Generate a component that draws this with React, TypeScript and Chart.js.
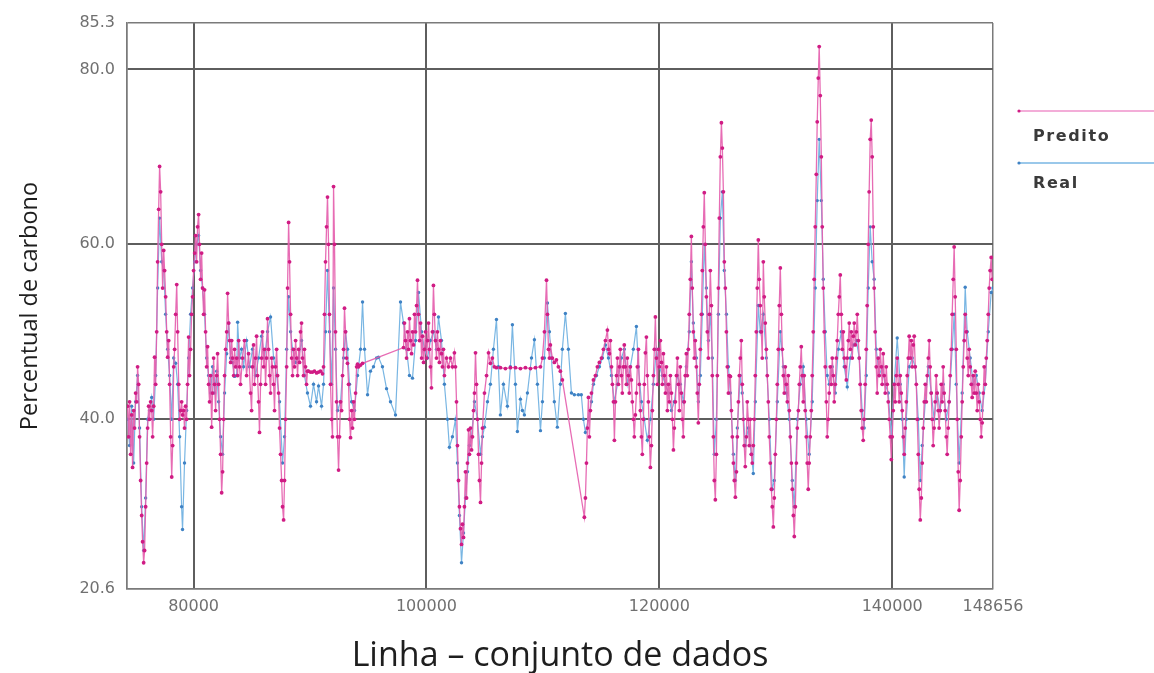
import React, { useEffect, useRef } from "react";
import { Chart, registerables } from "chart.js";

Chart.register(...registerables);

const X_MIN = 74280;
const X_MAX = 148656;
const Y_MIN = 20.6;
const Y_MAX = 85.3;
const xTickValues = [74280, 80000, 100000, 120000, 140000, 148656];
const xTickLabels = ["", "80000", "100000", "120000", "140000", "148656"];
const yTickValues = [20.6, 40, 60, 80, 85.3];
const seriesNames = ["Predito", "Real"];

const predito: [number, number][] = [
  [74330, 41.5], [74420, 38], [74500, 42], [74590, 36], [74680, 40.5], [74760, 34.5], [74850, 41], [74930, 39], [75020, 43], [75110, 42],
  [75190, 46], [75280, 44], [75360, 38], [75450, 33], [75540, 29], [75620, 26], [75710, 23.6], [75790, 25], [75880, 30], [75970, 35],
  [76050, 39], [76140, 41.5], [76220, 40], [76310, 42], [76400, 41], [76480, 38], [76570, 41.5], [76650, 47.1], [76740, 44], [76830, 50],
  [76910, 58], [77000, 64], [77080, 68.9], [77170, 66], [77260, 60], [77340, 55], [77430, 59.3], [77510, 57], [77600, 54], [77690, 50],
  [77770, 47.1], [77860, 49], [77940, 44], [78030, 38], [78120, 33.4], [78200, 37], [78290, 46], [78370, 48], [78460, 52], [78550, 55.4],
  [78630, 50], [78720, 44], [78800, 40], [78880, 41], [78970, 42], [79050, 40.5], [79140, 41], [79220, 39], [79310, 41.5], [79400, 40],
  [79480, 44], [79570, 49.4], [79650, 45], [79740, 48], [79830, 52], [79910, 54], [80000, 57], [80090, 59], [80170, 61], [80260, 58],
  [80340, 62], [80430, 63.4], [80510, 60], [80600, 56], [80690, 59], [80770, 55], [80860, 52], [80940, 54.8], [81030, 50], [81120, 46],
  [81200, 48.3], [81290, 44], [81370, 42], [81460, 45], [81550, 39.1], [81630, 43], [81720, 47], [81800, 44], [81890, 41], [81980, 45],
  [82060, 47.5], [82150, 44], [82230, 40], [82320, 36], [82410, 31.6], [82490, 34], [82580, 40], [82660, 45], [82750, 48], [82840, 50],
  [82920, 54.4], [83010, 51], [83090, 49], [83180, 46.5], [83270, 49], [83350, 47], [83440, 45], [83520, 48], [83610, 46], [83700, 47],
  [83780, 45], [83870, 49], [83950, 46], [84030, 44], [84200, 47], [84370, 49], [84550, 45], [84720, 47.5], [84890, 43], [84980, 41],
  [85060, 46], [85150, 48.5], [85230, 44], [85320, 47], [85410, 49.5], [85490, 45], [85580, 42], [85660, 38.5], [85750, 44], [85840, 47],
  [85920, 50], [86010, 46], [86090, 48], [86180, 44], [86270, 47], [86350, 51.5], [86440, 48], [86520, 45], [86610, 43], [86700, 47],
  [86780, 46], [86870, 44], [86950, 41], [87040, 46], [87130, 48], [87210, 45], [87300, 43], [87380, 39], [87470, 36], [87560, 33],
  [87640, 30], [87730, 28.5], [87810, 33], [87900, 40], [87990, 46], [88070, 55], [88160, 62.5], [88240, 58], [88330, 52], [88420, 47],
  [88500, 45], [88590, 48], [88670, 46], [88760, 49], [88850, 47], [88930, 45], [89020, 48], [89100, 46.5], [89180, 50], [89270, 51],
  [89350, 47], [89440, 45], [89520, 48], [89610, 46], [89700, 44], [89780, 45.5], [89870, 45.5], [90040, 45.4], [90210, 45.4], [90380, 45.5],
  [90560, 45.3], [90730, 45.4], [90900, 45.5], [91070, 45.2], [91160, 46], [91240, 52], [91330, 58], [91420, 62], [91500, 65.4], [91590, 60],
  [91670, 52], [91760, 44], [91850, 40], [91930, 38], [92020, 66.6], [92100, 60], [92190, 50], [92280, 42], [92360, 38], [92450, 34.2],
  [92530, 38], [92620, 42], [92710, 41], [92790, 45], [92880, 48], [92960, 52.7], [93050, 50], [93140, 47], [93220, 46.4], [93310, 44],
  [93390, 40], [93480, 37.9], [93570, 41], [93650, 39], [93740, 42], [93820, 40], [93910, 43], [94000, 46], [94080, 46.3], [94170, 46],
  [94340, 46.2], [94510, 46.4], [98030, 48.2], [98110, 51], [98200, 49], [98290, 47], [98370, 50], [98460, 48], [98540, 51.5], [98630, 49],
  [98720, 47.5], [98800, 50], [98890, 48.5], [98970, 52], [99060, 50], [99150, 53], [99230, 55.9], [99320, 52], [99400, 49], [99490, 51],
  [99580, 47], [99660, 49.5], [99750, 46.5], [99830, 48], [99920, 50], [100010, 47], [100090, 49], [100180, 51], [100260, 48], [100340, 46],
  [100430, 43.6], [100510, 50], [100600, 55.3], [100680, 52], [100770, 49], [100860, 47], [100940, 50], [101030, 48], [101110, 46.5], [101200, 49],
  [101290, 47.5], [101370, 46], [101460, 48], [101540, 45], [101720, 47], [101890, 46], [102060, 47], [102230, 46], [102400, 47.6], [102490, 46],
  [102580, 42], [102660, 37], [102750, 33], [102830, 30], [102920, 27.5], [103010, 25.7], [103090, 28], [103180, 26.5], [103260, 30], [103350, 34],
  [103440, 31], [103520, 35], [103610, 38.8], [103690, 36], [103780, 39], [103870, 36.5], [103950, 38], [104040, 41], [104120, 43], [104210, 47.6],
  [104300, 44], [104380, 40], [104470, 36], [104550, 33], [104640, 30.5], [104730, 35], [104810, 39], [104980, 43], [105160, 45], [105330, 47.6],
  [105490, 46.4], [105660, 47], [105830, 46], [106010, 45.9], [106350, 45.9], [106780, 45.8], [107210, 45.9], [107640, 45.9], [108070, 45.8], [108500, 45.9],
  [108930, 45.8], [109360, 45.9], [109790, 46], [109960, 47], [110130, 50], [110310, 55.9], [110390, 52], [110480, 48], [110560, 47], [110640, 48.5],
  [110810, 47], [110980, 46.5], [111160, 46.8], [111330, 46], [111500, 45.5], [111670, 44.5], [113560, 28.8], [113650, 31], [113740, 35], [113820, 39],
  [113910, 42.5], [113990, 38], [114080, 41], [114170, 43], [114340, 44.5], [114510, 45], [114680, 46], [114850, 46.5], [115030, 47], [115200, 48],
  [115370, 49], [115540, 50.2], [115630, 48], [115710, 47.5], [115800, 49], [115890, 46], [115970, 44], [116060, 42], [116140, 37.6], [116230, 42],
  [116320, 45], [116400, 47], [116490, 44], [116570, 46], [116650, 48], [116740, 45], [116820, 43], [116910, 46], [116990, 48.5], [117080, 46],
  [117170, 44], [117250, 47], [117340, 45], [117420, 43], [117510, 46], [117600, 44.5], [117680, 42], [117770, 40], [117850, 38], [117940, 40.5],
  [118030, 43], [118110, 46], [118200, 48], [118280, 44], [118370, 41], [118460, 38], [118540, 36], [118630, 40], [118710, 44], [118800, 47.6],
  [118890, 49.4], [118970, 45], [119060, 42], [119140, 38], [119230, 34.5], [119320, 37], [119400, 41], [119490, 45], [119570, 48], [119660, 51.7],
  [119750, 47], [119830, 44], [119920, 48], [120000, 46], [120090, 49], [120180, 46.5], [120260, 44], [120350, 47.5], [120430, 45], [120520, 43],
  [120610, 46], [120690, 41], [120780, 44], [120860, 42], [120950, 45], [121040, 43], [121120, 40], [121210, 36.5], [121290, 39], [121380, 42],
  [121470, 45], [121550, 47], [121640, 44], [121720, 41], [121800, 46], [121890, 43], [121970, 40], [122060, 38], [122140, 42], [122230, 45],
  [122320, 47.5], [122400, 45], [122490, 48], [122570, 52], [122660, 56], [122750, 60.9], [122830, 55], [122920, 50], [123000, 47], [123090, 49],
  [123180, 46], [123260, 43], [123350, 39.6], [123430, 44], [123520, 48], [123610, 52], [123690, 57], [123780, 62], [123860, 65.9], [123950, 60],
  [124040, 54], [124120, 50], [124210, 47], [124290, 52], [124380, 57], [124470, 53], [124550, 45], [124640, 38], [124720, 33], [124810, 30.8],
  [124900, 36], [124980, 45], [125070, 55], [125150, 63], [125240, 70], [125330, 73.9], [125410, 71], [125500, 66], [125580, 58], [125670, 55],
  [125760, 50], [125840, 46], [125930, 43], [126010, 45], [126100, 44.9], [126190, 41], [126270, 38], [126360, 35], [126440, 33], [126530, 31.1],
  [126620, 34], [126700, 38], [126790, 42], [126870, 45], [126950, 47], [127040, 49], [127120, 44], [127210, 40], [127290, 37], [127380, 34.6],
  [127470, 38], [127550, 42], [127640, 40], [127720, 37], [127810, 40], [127900, 36], [127980, 35], [128070, 37], [128150, 40], [128240, 45],
  [128330, 50], [128410, 55], [128500, 60.5], [128580, 56], [128670, 53], [128760, 50], [128840, 47], [128930, 58], [129010, 54], [129100, 51],
  [129190, 48], [129270, 45], [129360, 42], [129440, 38], [129530, 35], [129620, 32], [129700, 30], [129790, 27.7], [129870, 31], [129960, 36],
  [130050, 40], [130130, 44], [130220, 48], [130300, 53], [130390, 57.3], [130480, 52], [130560, 48], [130650, 45], [130730, 43], [130820, 46],
  [130910, 44], [130990, 42], [131080, 45], [131160, 41], [131250, 38], [131340, 35], [131420, 32], [131510, 29], [131590, 26.6], [131680, 30],
  [131770, 35], [131850, 39], [131940, 41], [132020, 44], [132100, 46], [132190, 48.3], [132270, 45], [132360, 42], [132440, 45], [132530, 41],
  [132620, 38], [132700, 35], [132790, 32], [132870, 35], [132960, 38], [133050, 41], [133130, 45], [133220, 50], [133300, 56], [133390, 62],
  [133480, 68], [133560, 74], [133650, 79], [133730, 82.6], [133820, 77], [133910, 70], [133990, 62], [134080, 55], [134160, 50], [134250, 46],
  [134340, 42], [134420, 38], [134510, 40], [134590, 43], [134680, 46], [134770, 44], [134850, 47], [134940, 45], [135020, 42], [135110, 44],
  [135200, 47], [135280, 49], [135370, 52], [135450, 54], [135540, 56.5], [135630, 52], [135710, 48], [135800, 50], [135880, 47], [135970, 46],
  [136060, 44.5], [136140, 47], [136230, 49], [136310, 51], [136400, 48], [136490, 50], [136570, 47], [136660, 49.5], [136740, 51], [136830, 48.5],
  [136920, 50], [137000, 52], [137090, 49], [137170, 47], [137250, 44], [137340, 41], [137420, 39], [137510, 37.6], [137590, 40], [137680, 44],
  [137770, 48], [137850, 53], [137940, 60], [138020, 66], [138110, 72], [138200, 74.2], [138280, 70], [138370, 62], [138450, 55], [138540, 50],
  [138630, 46], [138710, 43], [138800, 47], [138880, 45], [138970, 48], [139060, 46], [139140, 44], [139230, 47.5], [139310, 45], [139400, 43],
  [139490, 46], [139570, 44], [139660, 42], [139740, 40], [139830, 38], [139920, 35.4], [140000, 38], [140090, 41], [140170, 44], [140260, 42],
  [140350, 45], [140430, 47], [140520, 44], [140600, 42], [140690, 45], [140780, 43], [140860, 41], [140950, 38], [141030, 36], [141120, 39],
  [141210, 42], [141290, 45], [141380, 47], [141460, 49.5], [141550, 47], [141640, 49], [141720, 46], [141810, 48.5], [141890, 49.5], [141980, 46],
  [142070, 44], [142150, 40], [142240, 36], [142320, 32], [142410, 28.5], [142500, 31], [142580, 35], [142670, 39], [142750, 42], [142840, 44],
  [142930, 42], [143010, 45], [143100, 47], [143180, 49], [143260, 46], [143350, 43], [143430, 40], [143520, 37], [143600, 39], [143690, 42],
  [143780, 45], [143860, 43], [143950, 41], [144030, 39], [144120, 41], [144210, 44], [144290, 42], [144380, 46], [144460, 43], [144550, 41],
  [144640, 38], [144720, 36], [144810, 39], [144890, 42], [144980, 45], [145070, 48], [145150, 52], [145240, 56], [145320, 59.7], [145410, 54],
  [145500, 48], [145580, 40], [145670, 34], [145750, 29.6], [145840, 33], [145930, 38], [146010, 42], [146100, 46], [146180, 49], [146270, 52],
  [146360, 50], [146440, 47], [146530, 45], [146610, 48], [146700, 46], [146790, 44], [146870, 42.5], [146960, 45], [147040, 43], [147130, 45.5],
  [147220, 43], [147300, 41], [147390, 44], [147470, 42], [147560, 40], [147650, 38], [147730, 39.6], [147820, 43], [147900, 46], [147990, 44],
  [148080, 47], [148160, 49], [148250, 52], [148330, 55], [148410, 57], [148500, 58.5], [148580, 56],
];

const real: [number, number][] = [
  [74330, 40], [74500, 37], [74680, 41.5], [74850, 35], [75020, 42], [75190, 45], [75360, 39], [75540, 30], [75710, 25], [75880, 31],
  [76050, 40], [76220, 41], [76400, 42.5], [76570, 40], [76740, 45], [76910, 55], [77080, 63], [77260, 58], [77430, 57], [77600, 52],
  [77770, 48], [77940, 45], [78120, 40], [78290, 47], [78460, 46.4], [78630, 44], [78800, 38], [78970, 30], [79050, 27.4], [79220, 35],
  [79400, 41], [79570, 47], [79740, 52], [79910, 55], [80090, 58], [80260, 60], [80430, 61], [80600, 57], [80770, 55], [80940, 52],
  [81120, 47], [81290, 45], [81460, 43], [81630, 46], [81800, 43], [81980, 45.5], [82150, 42], [82320, 38], [82490, 36], [82660, 43],
  [82840, 47.5], [83010, 51], [83180, 47], [83350, 46.5], [83520, 44.9], [83700, 45], [83780, 51.1], [83950, 47], [84120, 48], [84290, 46],
  [84550, 49], [84800, 46], [85060, 48], [85320, 45], [85580, 47], [85840, 49.5], [86090, 47], [86350, 50], [86610, 51.7], [86870, 47],
  [87130, 45], [87380, 42], [87640, 35], [87810, 38], [87990, 48], [88160, 54], [88330, 50], [88500, 48], [88760, 46.5], [89020, 47],
  [89270, 49], [89520, 45], [89780, 43], [90040, 41.5], [90300, 44], [90560, 42], [90730, 43.8], [90990, 41.5], [91160, 44], [91330, 50],
  [91500, 57], [91670, 50], [91850, 44], [92020, 55], [92190, 48], [92360, 41], [92620, 42], [92880, 47], [93050, 50], [93220, 48],
  [93390, 44], [93570, 42], [93820, 41], [94080, 45], [94340, 48], [94510, 53.4], [94680, 48], [94940, 42.8], [95190, 45.5], [95450, 46],
  [95710, 47], [95880, 47.1], [96220, 46], [96570, 43.5], [96910, 42], [97340, 40.5], [97770, 53.4], [98030, 51], [98290, 48], [98540, 45],
  [98800, 44.7], [99060, 49], [99320, 54.5], [99580, 50], [99830, 48], [100090, 47], [100340, 49], [100600, 50], [100860, 48], [101030, 51.7],
  [101290, 49], [101540, 44], [101800, 40], [101970, 36.8], [102230, 38], [102490, 40], [102660, 35], [102830, 29], [103010, 23.6], [103180, 27],
  [103350, 31], [103520, 34], [103690, 37], [103870, 38], [104120, 42], [104380, 40], [104640, 36], [104810, 38], [104980, 39.1], [105240, 42],
  [105490, 44], [105750, 48], [106010, 51.4], [106180, 46], [106350, 40.5], [106610, 44], [106950, 41.5], [107210, 46], [107380, 50.8], [107640, 44],
  [107810, 38.6], [108070, 42.3], [108240, 41], [108410, 40.5], [108670, 43], [109020, 47], [109270, 49.1], [109530, 44], [109790, 38.7], [109960, 42],
  [110130, 47], [110390, 53.3], [110560, 50], [110730, 47], [110980, 42], [111240, 39.1], [111500, 44], [111670, 48], [111930, 52.1], [112190, 48],
  [112450, 43], [112700, 42.8], [113050, 42.8], [113300, 42.8], [113480, 40], [113650, 38.5], [113910, 40], [114170, 42], [114340, 44], [114600, 45],
  [114850, 46], [115110, 47], [115370, 48.5], [115630, 47], [115890, 45], [116140, 42], [116400, 44], [116740, 47], [116990, 48], [117250, 44],
  [117510, 46], [117770, 48], [118030, 50.6], [118200, 46], [118460, 42], [118710, 40], [118970, 37.6], [119230, 40], [119490, 44], [119750, 48],
  [120000, 46], [120260, 45], [120520, 44], [120780, 43], [121040, 41], [121290, 42], [121550, 45], [121800, 44], [122060, 42], [122320, 46],
  [122570, 50], [122750, 58], [122920, 51], [123180, 47], [123350, 42], [123520, 45], [123690, 52], [123860, 60], [124040, 55], [124210, 49],
  [124380, 52], [124550, 47], [124720, 36], [124900, 40], [125070, 52], [125240, 63], [125410, 66], [125580, 57], [125760, 52], [125930, 46],
  [126100, 43], [126360, 36], [126530, 33], [126700, 39], [126950, 45], [127120, 43], [127380, 37], [127640, 39], [127900, 36], [128070, 33.8],
  [128240, 42], [128500, 53], [128670, 50], [128930, 52], [129190, 47], [129440, 40], [129700, 32], [129870, 33], [130130, 42], [130390, 50],
  [130650, 46], [130910, 43], [131160, 40], [131420, 33], [131590, 30], [131850, 40], [132100, 44], [132360, 46], [132620, 40], [132870, 36],
  [133130, 42], [133390, 55], [133560, 65], [133730, 72], [133910, 65], [134080, 56], [134250, 50], [134420, 45], [134590, 44], [134850, 46],
  [135110, 43], [135370, 48], [135630, 50], [135880, 46], [136140, 43.7], [136400, 47], [136660, 48.5], [136920, 49], [137170, 47], [137420, 41],
  [137590, 39], [137770, 45], [137940, 55], [138110, 62], [138280, 58], [138450, 56], [138630, 48], [138880, 45], [139140, 46], [139400, 44],
  [139660, 43], [139920, 38], [140170, 44], [140430, 49.3], [140690, 44], [140860, 40], [141030, 33.4], [141210, 40], [141460, 46], [141720, 47],
  [141980, 46], [142240, 40], [142410, 33], [142580, 37], [142840, 42], [143100, 46], [143350, 43], [143600, 40], [143860, 43], [144120, 41],
  [144380, 44], [144640, 40], [144890, 42], [145150, 48], [145320, 52], [145500, 44], [145750, 35], [146010, 43], [146270, 55.1], [146440, 50],
  [146700, 47], [146960, 44], [147220, 45], [147470, 43], [147730, 41], [147990, 44], [148250, 50], [148500, 54.5], [148656, 55],
];

const PRED_POINT = "#d01c84";
const PRED_LINE = "rgba(228,92,172,0.9)";
const REAL_POINT = "#3f82c4";
const REAL_LINE = "#79b6e3";
const GRID = "#5e5e5e";
const EDGE = "#7a7a7a";

const legendPlugin = {
  id: "sideLegend",
  afterDraw(chart: any) {
    const { ctx, chartArea, width } = chart;
    const x0 = chartArea.right + 25;
    const items = [
      { name: seriesNames[0], line: "rgba(238,140,200,0.95)", dot: PRED_POINT, ly: 111, ty: 137 },
      { name: seriesNames[1], line: REAL_LINE, dot: REAL_POINT, ly: 163, ty: 184 },
    ];
    ctx.save();
    for (const it of items) {
      ctx.strokeStyle = it.line;
      ctx.lineWidth = 1.5;
      ctx.beginPath();
      ctx.moveTo(x0, it.ly);
      ctx.lineTo(width, it.ly);
      ctx.stroke();
      ctx.fillStyle = it.dot;
      ctx.beginPath();
      ctx.arc(x0 + 1, it.ly, 1.6, 0, Math.PI * 2);
      ctx.fill();
      ctx.fillStyle = "#3a3a3a";
      ctx.font = "bold 16px 'DejaVu Sans'";
      (ctx as any).letterSpacing = "1.6px";
      ctx.textBaseline = "middle";
      ctx.textAlign = "left";
      ctx.fillText(it.name, x0 + 15, it.ty);
    }
    ctx.restore();
  },
};

export default function App() {
  const ref = useRef<HTMLCanvasElement>(null);
  useEffect(() => {
    document.body.style.margin = "0";
    const canvas = ref.current!;
    const chart = new Chart(canvas, {
      type: "line",
      data: {
        datasets: [
          {
            label: seriesNames[0],
            data: predito.map(([x, y]) => ({ x, y })),
            borderColor: PRED_LINE,
            borderWidth: 1.3,
            pointRadius: 1.9,
            pointBorderWidth: 0,
            pointBackgroundColor: PRED_POINT,
            tension: 0,
          },
          {
            label: seriesNames[1],
            data: real.map(([x, y]) => ({ x, y })),
            borderColor: REAL_LINE,
            borderWidth: 1.2,
            pointRadius: 1.7,
            pointBorderWidth: 0,
            pointBackgroundColor: REAL_POINT,
            tension: 0,
          },
        ],
      },
      options: {
        animation: false,
        responsive: false,
        events: [],
        layout: { padding: { left: 0, right: 161, top: 23, bottom: 0 } },
        plugins: { legend: { display: false }, tooltip: { enabled: false } },
        scales: {
          x: {
            type: "linear",
            min: X_MIN,
            max: X_MAX,
            afterBuildTicks: (scale: any) => {
              scale.ticks = xTickValues.map((v) => ({ value: v }));
            },
            afterFit: (scale: any) => {
              scale.height = 84;
            },
            grid: {
              drawTicks: false,
              color: (c: any) => (c.tick && (c.tick.value === X_MIN || c.tick.value === X_MAX) ? EDGE : GRID),
              lineWidth: (c: any) => (c.tick && (c.tick.value === X_MIN || c.tick.value === X_MAX) ? 1.5 : 2),
            },
            border: { display: true, color: EDGE, width: 1.5 },
            ticks: {
              autoSkip: false,
              maxRotation: 0,
              padding: 8,
              color: "#707070",
              font: { family: "'DejaVu Sans'", size: 16 },
              callback: (v: any) => xTickLabels[xTickValues.indexOf(Number(v))] ?? "",
            },
            title: {
              display: true,
              text: "Linha – conjunto de dados",
              color: "#1e1e1e",
              font: { family: "'Open Sans'", size: 34, lineHeight: 1.0 },
              padding: { top: 0, bottom: 0 },
            },
          },
          y: {
            type: "linear",
            min: Y_MIN,
            max: Y_MAX,
            afterBuildTicks: (scale: any) => {
              scale.ticks = yTickValues.map((v) => ({ value: v }));
            },
            afterFit: (scale: any) => {
              scale.width = 127;
            },
            grid: {
              drawTicks: false,
              color: (c: any) => (c.tick && (c.tick.value === Y_MIN || c.tick.value === Y_MAX) ? EDGE : GRID),
              lineWidth: (c: any) => (c.tick && (c.tick.value === Y_MIN || c.tick.value === Y_MAX) ? 1.5 : 2),
            },
            border: { display: true, color: EDGE, width: 1.5 },
            ticks: {
              autoSkip: false,
              padding: 12,
              color: "#707070",
              font: { family: "'DejaVu Sans'", size: 16 },
              callback: (v: any) => Number(v).toFixed(1),
            },
            title: {
              display: true,
              text: "Percentual de carbono",
              color: "#1e1e1e",
              font: { family: "'Open Sans'", size: 23.5, lineHeight: 1.2 },
              padding: { top: 16, bottom: 0 },
            },
          },
        },
      },
      plugins: [legendPlugin],
    });
    return () => chart.destroy();
  }, []);
  return (
    <div style={{ width: 1154, height: 673, background: "#fff" }}>
      <canvas ref={ref} width={1154} height={673} style={{ display: "block" }} />
    </div>
  );
}
